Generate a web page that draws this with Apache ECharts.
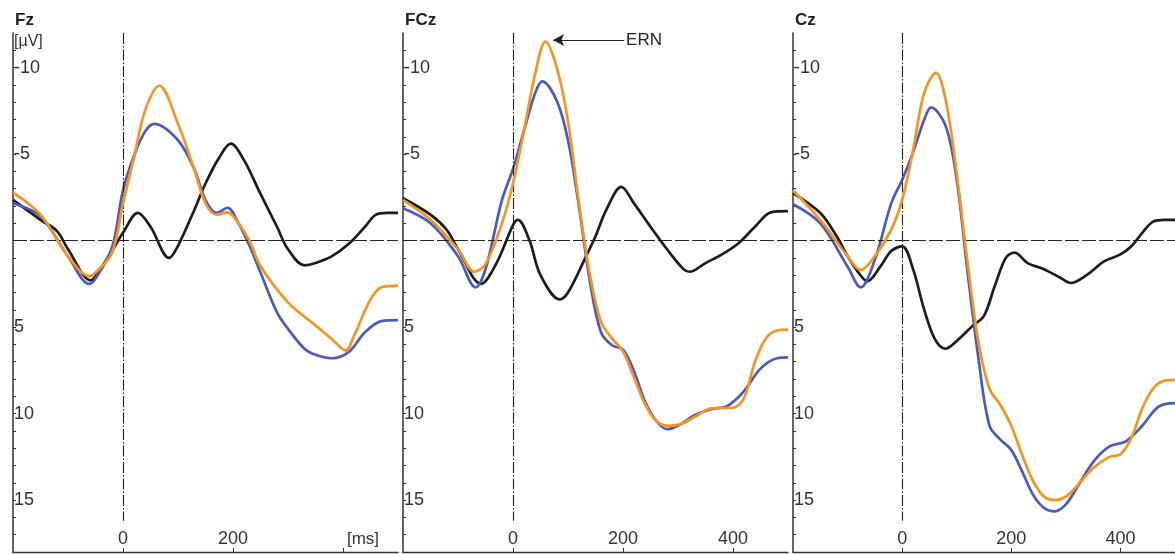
<!DOCTYPE html>
<html><head><meta charset="utf-8">
<script src="https://cdn.jsdelivr.net/npm/echarts@6/dist/echarts.min.js"></script>
<style>html,body{margin:0;padding:0;background:#fff}#c{width:1175px;height:554px}</style>
</head><body><div id="c"></div>
<script>
const panelNames = ['Fz', 'FCz', 'Cz'];
const xLabelValues = [0, 200, 400];
const yLabelValues = [-10, -5, 5, 10, 15];
const yTickValues = [-11,-10,-9,-8,-7,-6,-5,-4,-3,-2,-1,0,1,2,3,4,5,6,7,8,9,10,11,12,13,14,15,16,17];
const yUnit = '[µV]';
const xUnit = '[ms]';
const annotationText = 'ERN';

// [time ms, amplitude µV] — negative plotted upward
const fzBlack = [[-200,-2.35],[-150,-1.2],[-120,-0.55],[-100,0.5],[-58,2.3],[-50,2.05],[-20,0.6],[0,-0.45],[27,-1.6],[50,-0.8],[84,1.0],[100,0.3],[130,-1.8],[150,-3.3],[175,-4.8],[196,-5.6],[220,-4.65],[250,-2.7],[280,-0.8],[300,0.5],[330,1.43],[350,1.3],[380,0.9],[410,0.2],[440,-0.8],[460,-1.5],[480,-1.6],[500,-1.6]];
const fzBlue = [[-200,-2.16],[-150,-1.4],[-100,0.9],[-61,2.5],[-50,2.2],[-20,0.4],[0,-2.9],[20,-4.9],[40,-6.3],[57,-6.75],[100,-5.8],[130,-4.1],[150,-2.35],[170,-1.6],[190,-1.9],[210,-1.0],[230,0.3],[250,1.85],[280,4.15],[300,5.1],[330,6.25],[350,6.6],[380,6.8],[410,6.45],[440,5.3],[470,4.65],[500,4.6]];
const fzOrange = [[-200,-2.77],[-150,-1.5],[-100,0.9],[-61,2.05],[-50,1.85],[-20,0.7],[0,-2.16],[20,-4.8],[40,-7.5],[66,-8.95],[100,-6.75],[130,-4.07],[150,-2.16],[170,-1.5],[190,-1.63],[210,-1.0],[230,0],[250,1.47],[300,3.57],[350,4.9],[380,5.7],[405,6.35],[420,5.5],[450,3.4],[470,2.7],[500,2.6]];

const fczBlack = [[-200,-2.45],[-150,-1.5],[-120,-0.6],[-100,0.5],[-58,2.5],[-30,1.3],[0,-0.9],[9,-1.2],[30,0],[50,2.0],[85,3.4],[100,3.0],[130,1.1],[150,-0.25],[170,-1.8],[197,-3.1],[220,-2.15],[250,-0.8],[280,0.5],[310,1.65],[321,1.8],[350,1.3],[380,0.8],[410,0.15],[440,-0.8],[470,-1.65],[500,-1.7]];
const fczBlue = [[-200,-1.87],[-150,-1.0],[-100,0.9],[-68,2.7],[-50,1.65],[-20,-2.35],[0,-4.15],[20,-6.35],[40,-8.5],[53,-9.2],[80,-8.05],[100,-5.8],[120,-1.95],[140,2.4],[160,5.3],[180,6.05],[200,6.3],[220,7.55],[240,9.3],[260,10.4],[280,10.9],[300,10.7],[330,10.1],[360,9.75],[390,9.55],[420,8.7],[450,7.4],[480,6.8],[500,6.75]];
const fczOrange = [[-200,-2.35],[-150,-1.2],[-100,0.5],[-70,1.8],[-50,1.37],[-20,-1.0],[0,-3.3],[20,-6.35],[40,-9.6],[59,-11.5],[80,-9.95],[100,-6.9],[120,-2.15],[140,2.0],[160,4.7],[180,5.65],[200,6.4],[220,7.9],[240,9.45],[260,10.4],[280,10.7],[300,10.65],[330,10.2],[360,9.7],[400,9.65],[420,9.1],[440,7.0],[460,5.65],[480,5.2],[500,5.15]];

const czBlack = [[-200,-2.75],[-150,-1.6],[-120,-0.25],[-100,0.9],[-80,1.85],[-64,2.35],[-40,1.5],[-20,0.6],[0,0.33],[20,1.65],[40,3.95],[60,5.7],[79,6.25],[100,5.8],[130,4.9],[150,4.35],[170,2.6],[190,1.0],[206,0.7],[230,1.3],[260,1.65],[290,2.15],[309,2.45],[340,1.95],[370,1.2],[400,0.8],[420,0.33],[440,-0.45],[460,-1.1],[480,-1.2],[500,-1.2]];
const czBlue = [[-200,-2.1],[-150,-1.0],[-100,1.5],[-76,2.7],[-50,1.1],[-20,-2.15],[0,-3.5],[20,-5.1],[40,-6.95],[53,-7.7],[80,-6.6],[100,-3.5],[120,1.85],[140,6.85],[160,10.7],[180,11.5],[200,12.1],[220,13.35],[240,14.7],[260,15.45],[280,15.65],[300,15.25],[320,14.3],[350,12.8],[380,11.9],[410,11.6],[440,10.7],[470,9.6],[500,9.4]];
const czOrange = [[-200,-2.9],[-150,-1.2],[-100,0.9],[-76,1.7],[-50,0.9],[-20,-0.63],[0,-2.35],[20,-5.2],[40,-8.5],[62,-9.7],[80,-8.1],[100,-3.9],[120,1.3],[140,5.9],[160,8.55],[180,9.5],[200,10.7],[220,12.4],[240,13.9],[260,14.8],[280,15.0],[300,14.8],[320,14.2],[350,13.15],[380,12.5],[400,12.35],[420,11.4],[440,9.7],[460,8.55],[480,8.1],[500,8.05]];

const ernArrow = [[202, -11.6], [73, -11.6]];

const panels = [
  {black: fzBlack, blue: fzBlue, orange: fzOrange},
  {black: fczBlack, blue: fczBlue, orange: fczOrange},
  {black: czBlack, blue: czBlue, orange: czOrange}
];

const FONT = '"Liberation Sans", Arial, sans-serif';
const AX = '#333';
const lefts = [13, 403, 793];
const grids = [], xAxes = [], yAxes = [], series = [], titles = [];

panels.forEach((p, i) => {
  grids.push({left: lefts[i], width: 385, top: 33, bottom: 2, containLabel: false});
  titles.push({text: panelNames[i], left: lefts[i] - 3, top: 7,
    textStyle: {fontFamily: FONT, fontSize: 17, fontWeight: 'bold', color: '#222'}});
  xAxes.push({
    type: 'value', gridIndex: i, min: -200, max: 500,
    axisLine: {show: true, onZero: false, lineStyle: {color: AX, width: 1.3}},
    axisTick: {show: true, inside: true, length: 4, customValues: xLabelValues, lineStyle: {color: AX}},
    axisLabel: {show: true, inside: true, margin: 4, customValues: xLabelValues,
      fontFamily: FONT, fontSize: 18, color: '#333',
      formatter: v => (i === 0 && v === 400) ? '{u|' + xUnit + '}' : String(v),
      rich: {u: {fontFamily: FONT, fontSize: 17, color: '#333', padding: [0, 0, 0, 40]}}},
    splitLine: {show: false}
  });
  yAxes.push({
    type: 'value', gridIndex: i, min: -12, max: 18, inverse: true,
    axisLine: {show: true, onZero: false, lineStyle: {color: AX, width: 1.5}},
    axisTick: {show: true, inside: true, length: 3, customValues: yTickValues, lineStyle: {color: AX}},
    axisLabel: {show: true, inside: true, margin: 1, customValues: yLabelValues,
      fontFamily: FONT, fontSize: 18, color: '#333', formatter: v => String(v)},
    splitLine: {show: false}
  });
  const common = {type: 'line', xAxisIndex: i, yAxisIndex: i, showSymbol: false, smooth: 0.35,
    silent: true, animation: false};
  series.push(Object.assign({}, common, {
    name: panelNames[i] + ' black', data: p.black, z: 3,
    lineStyle: {color: '#1c1c1c', width: 2.7},
    markLine: {silent: true, symbol: 'none', animation: false, label: {show: false},
      data: [
        [{coord: [-200, 0]}, {coord: [500, 0]}],
        [{coord: [0, -12]}, {coord: [0, 16.2]}]
      ].map((d, k) => d.map(e => Object.assign(e, {lineStyle: {color: '#222', width: 1.1,
        type: k === 0 ? [14, 3] : [11, 2, 1.5, 2]}})))}
  }));
  series.push(Object.assign({}, common, {
    name: panelNames[i] + ' blue', data: p.blue, z: 4,
    lineStyle: {color: '#4a5bbd', width: 2.7}
  }));
  const orange = Object.assign({}, common, {
    name: panelNames[i] + ' orange', data: p.orange, z: 5,
    lineStyle: {color: '#f7931e', width: 2.7}
  });
  if (i === 1) {
    orange.markLine = {silent: true, animation: false,
      symbol: ['none', 'arrow'], symbolSize: [9, 11],
      lineStyle: {color: '#222', width: 1.2, type: 'solid'},
      label: {show: true, position: 'start', distance: 2, formatter: annotationText,
        fontFamily: FONT, fontSize: 17, color: '#222'},
      data: [[{coord: ernArrow[0]}, {coord: ernArrow[1]}]]};
  }
  series.push(orange);
});

const chart = echarts.init(document.getElementById('c'), null, {renderer: 'canvas'});
chart.setOption({
  backgroundColor: '#fff',
  animation: false,
  title: titles,
  grid: grids, xAxis: xAxes, yAxis: yAxes, series: series,
  graphic: [{type: 'text', left: 14, top: 34, silent: true,
    style: {text: yUnit, fontFamily: FONT, fontSize: 16, fill: '#333'}}]
});
</script></body></html>
